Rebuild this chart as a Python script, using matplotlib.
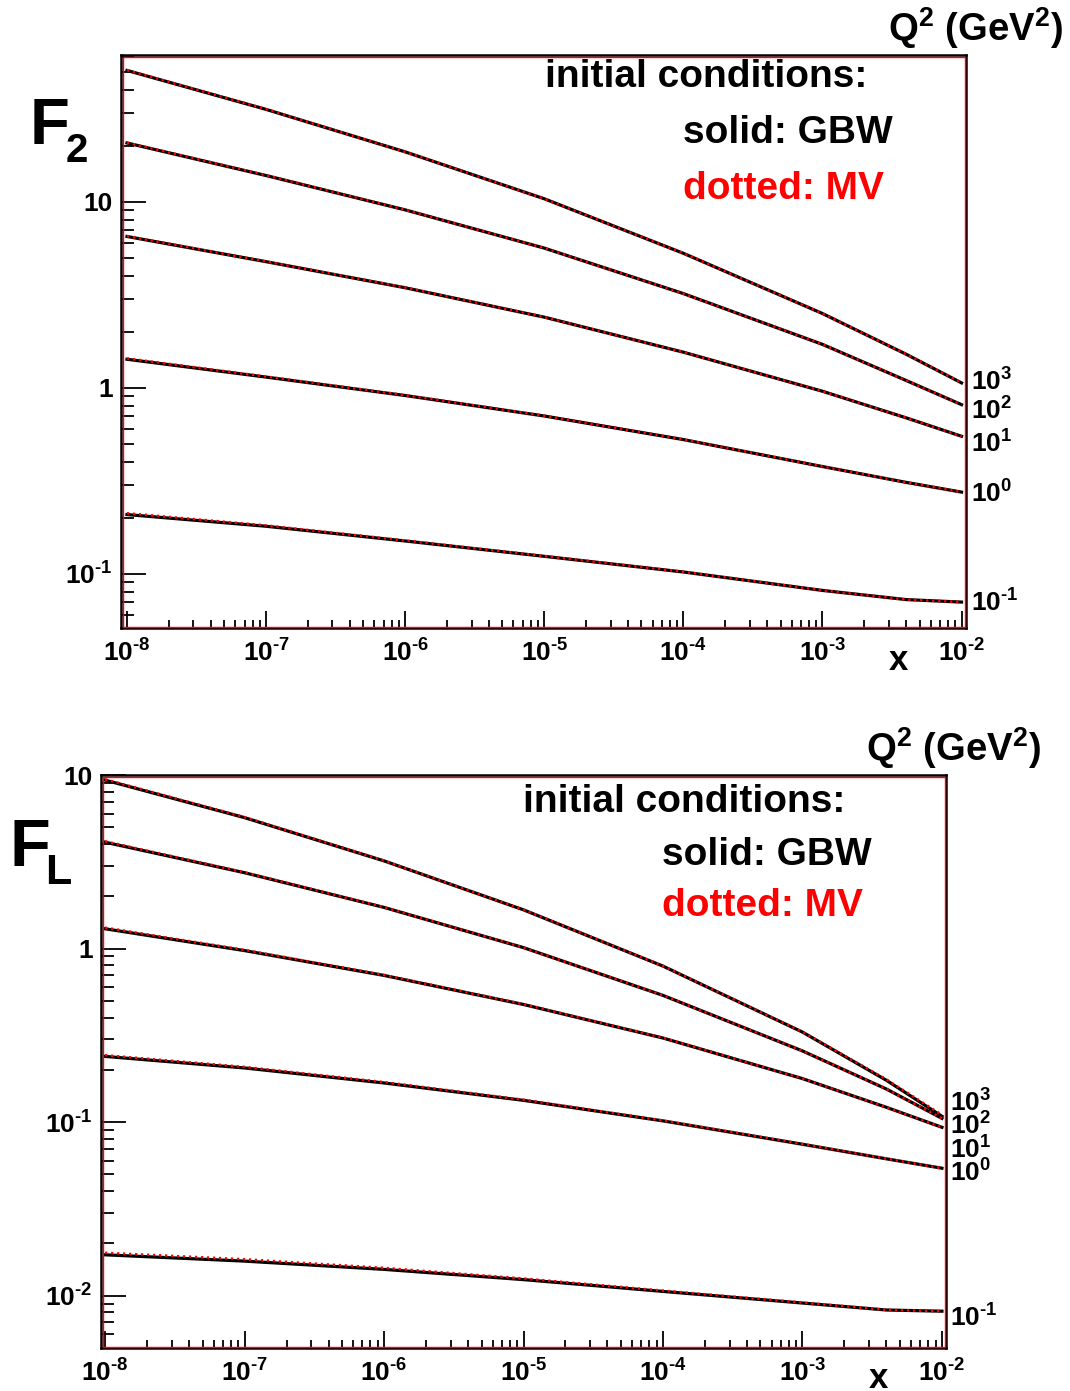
import numpy as np
import matplotlib
matplotlib.use("Agg")
import matplotlib.pyplot as plt
from matplotlib.ticker import LogLocator, FuncFormatter, NullFormatter
from matplotlib.patches import Rectangle

plt.rcParams.update({
    "font.family": "Liberation Sans",
    "font.weight": "bold",
    "mathtext.fontset": "custom",
    "mathtext.rm": "Liberation Sans:bold",
    "mathtext.it": "Liberation Sans:bold",
    "mathtext.bf": "Liberation Sans:bold",
    "mathtext.default": "rm",
})

# x grid shared by all curves
x_vals = [1e-8, 1e-7, 1e-6, 1e-5, 1e-4, 1e-3, 4e-3, 1e-2]
q2_labels = ["3", "2", "1", "0", "-1"]

# F2, solid GBW, Q2 = 1e3, 1e2, 1e1, 1e0, 1e-1
f2_gbw = [
    [50.7, 31.3, 18.5, 10.35, 5.27, 2.50, 1.51, 1.059],
    [20.65, 13.8, 9.02, 5.62, 3.20, 1.706, 1.091, 0.809],
    [6.49, 4.75, 3.44, 2.39, 1.549, 0.955, 0.687, 0.547],
    [1.419, 1.138, 0.906, 0.703, 0.525, 0.376, 0.309, 0.274],
    [0.2075, 0.1795, 0.1496, 0.1237, 0.1019, 0.0811, 0.0724, 0.0702],
]
# F2, dotted MV
f2_mv = [
    [50.9, 31.4, 18.5, 10.35, 5.27, 2.50, 1.51, 1.062],
    [20.75, 13.85, 9.03, 5.62, 3.20, 1.706, 1.091, 0.809],
    [6.52, 4.76, 3.45, 2.39, 1.549, 0.955, 0.687, 0.547],
    [1.435, 1.146, 0.910, 0.705, 0.526, 0.376, 0.309, 0.274],
    [0.2110, 0.1815, 0.1505, 0.1242, 0.1021, 0.0812, 0.0724, 0.0702],
]

# FL, solid GBW
fl_gbw = [
    [9.35, 5.68, 3.20, 1.671, 0.792, 0.330, 0.174, 0.108],
    [4.10, 2.735, 1.726, 1.012, 0.537, 0.257, 0.155, 0.105],
    [1.30, 0.973, 0.700, 0.476, 0.305, 0.178, 0.1216, 0.0933],
    [0.239, 0.205, 0.168, 0.1334, 0.1016, 0.0745, 0.0614, 0.0542],
    [0.01718, 0.0158, 0.01416, 0.01236, 0.01057, 0.00906, 0.00826, 0.00813],
]
# FL, dotted MV
fl_mv = [
    [9.45, 5.72, 3.21, 1.674, 0.793, 0.331, 0.176, 0.110],
    [4.15, 2.75, 1.73, 1.013, 0.537, 0.257, 0.155, 0.105],
    [1.32, 0.982, 0.704, 0.478, 0.306, 0.178, 0.1216, 0.0933],
    [0.243, 0.208, 0.170, 0.1345, 0.1020, 0.0747, 0.0615, 0.0542],
    [0.01765, 0.0162, 0.01445, 0.01255, 0.01068, 0.00912, 0.00828, 0.00813],
]

W, H = 1070, 1391
fig = plt.figure(figsize=(W / 100, H / 100), dpi=100)


def fx(x):
    return x / W


def fy(y):
    return 1 - y / H


def pow10(e):
    return r"$10^{\text{%s}}$" % e


def ylab(v, pos):
    e = int(round(np.log10(v)))
    if e == 0:
        return "1"
    if e == 1:
        return "10"
    return pow10(e)


def xlab(v, pos):
    return pow10(int(round(np.log10(v))))


def panel(l, t, r, b, xlim, ylim, gbw, mv):
    ax = fig.add_axes([fx(l), fy(b), fx(r - l), (b - t) / H])
    for y in gbw:
        ax.plot(x_vals, y, color="black", lw=2.3, zorder=3)
    for y in mv:
        ax.plot(x_vals, y, color="red", lw=1.8, ls=(0, (0.9, 1.5)), zorder=4)
    ax.set_xscale("log")
    ax.set_yscale("log")
    ax.set_xlim(*xlim)
    ax.set_ylim(*ylim)
    for a in (ax.xaxis, ax.yaxis):
        a.set_major_locator(LogLocator(base=10, numticks=20))
        a.set_minor_locator(LogLocator(base=10, subs=np.arange(2, 10), numticks=20))
        a.set_minor_formatter(NullFormatter())
    ax.yaxis.set_major_formatter(FuncFormatter(ylab))
    ax.xaxis.set_major_formatter(FuncFormatter(xlab))
    ax.tick_params(which="both", direction="in", top=False, right=False, width=1.3)
    ax.tick_params(axis="y", which="major", length=18, labelsize=19, pad=6)
    ax.tick_params(axis="y", which="minor", length=9)
    ax.tick_params(axis="x", which="major", length=12, labelsize=19, pad=8)
    ax.tick_params(axis="x", which="minor", length=5.5)
    for s in ax.spines.values():
        s.set_linewidth(1.8)
        s.set_color("black")
    dx = 1.5 / (r - l)
    dy = 1.5 / (b - t)
    ax.add_patch(Rectangle((dx, dy), 1 - 2 * dx, 1 - 2 * dy, transform=ax.transAxes,
                           fill=False, ec="red", lw=1.0, zorder=5, clip_on=False))
    return ax


panel(121, 55, 966, 628, (10 ** -8.043, 10 ** -1.968), (10 ** -1.293, 10 ** 1.788), f2_gbw, f2_mv)
panel(101, 775, 946, 1348, (10 ** -8.029, 10 ** -1.971), (10 ** -2.302, 10.001), fl_gbw, fl_mv)


# texts, figure pixel positions
def txt(x, y, s, size, color="black", ha="left"):
    fig.text(fx(x), fy(y), s, fontsize=size, color=color, ha=ha, va="baseline",
             fontweight="bold")


txt(30, 144, "F", 47)
txt(66, 162, "2", 29)
txt(10, 866, "F", 48)
txt(45, 884, "L", 31)

txt(545, 87, "initial conditions:", 28)
txt(683, 143, "solid: GBW", 28)
txt(683, 199, "dotted: MV", 28, color="red")
txt(523, 812, "initial conditions:", 28)
txt(662, 865, "solid: GBW", 28)
txt(662, 916, "dotted: MV", 28, color="red")

txt(888, 41, r"$Q^{2}$ (GeV$^{2}$)", 27.5)
txt(866, 761, r"$Q^{2}$ (GeV$^{2}$)", 27.5)

txt(898, 670, "x", 25, ha="center")
txt(878, 1388, "x", 25, ha="center")

top_lab_y = [391, 420, 453, 503, 612]
bot_lab_y = [1112, 1135, 1159, 1182, 1327]
for e, y in zip(q2_labels, top_lab_y):
    txt(971, y, pow10(e), 19)
for e, y in zip(q2_labels, bot_lab_y):
    txt(950, y, pow10(e), 19)

fig.savefig("out.png", dpi=100)
